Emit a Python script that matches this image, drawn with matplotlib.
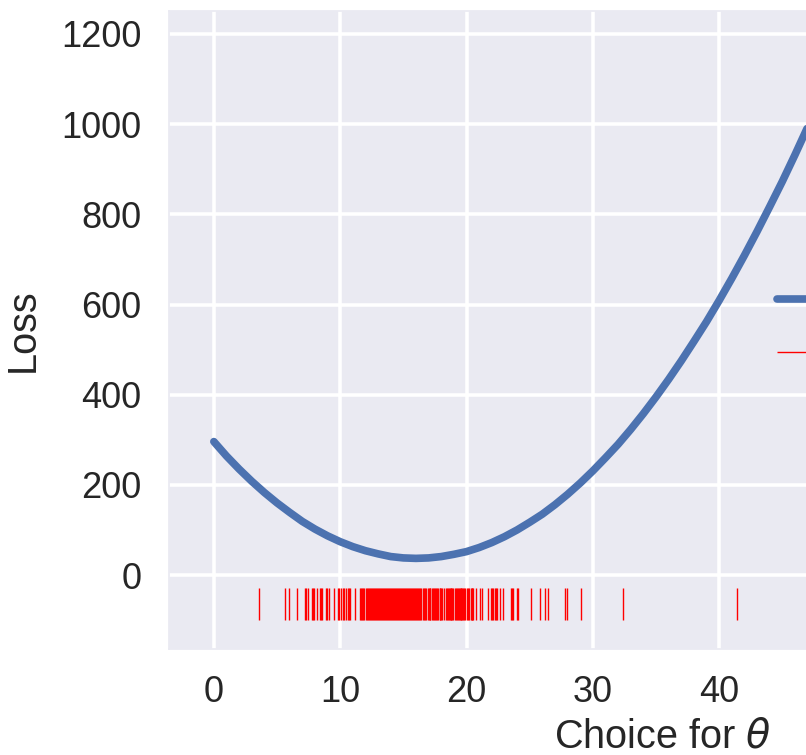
import numpy as np
import matplotlib
matplotlib.use('Agg')
import matplotlib.pyplot as plt
import seaborn as sns

sns.set_theme(style='darkgrid')
plt.rcParams['font.family'] = ['Liberation Sans', 'DejaVu Sans']
plt.rcParams['axes.edgecolor'] = '#EAEAF2'

# loss curve
theta = np.arange(0, 51)
loss = [296, 264, 235, 208, 183, 160, 139, 119, 102, 87,
        74, 63, 54, 47, 41, 38, 37, 38, 41, 46,
        52, 61, 72, 85, 100, 117, 135, 156, 179, 204,
        231, 260, 290, 323, 358, 395, 434, 475, 518, 562,
        609, 658, 709, 762, 817, 873, 932, 993, 1056, 1121, 1188]

# observed values (rug)
obs = [3.58, 5.67, 5.95, 6.62, 7.19, 7.31, 7.43, 7.75, 7.83, 7.91, 8.14, 8.38, 8.46,
       8.54, 8.85, 8.97, 9.09, 9.49, 9.80, 9.92, 10.04, 10.20, 10.32, 10.43, 10.59,
       10.67, 10.75, 11.15, 11.54, 11.62, 11.70, 11.78, 11.86,
       12.02, 12.09, 12.17, 12.25, 12.33, 12.41, 12.49, 12.57, 12.65, 12.73, 12.81,
       12.89, 12.96, 13.04, 13.12, 13.20, 13.28, 13.36, 13.44, 13.52, 13.60, 13.68,
       13.75, 13.83, 13.91, 13.99, 14.07, 14.15, 14.23, 14.31, 14.39, 14.47, 14.55,
       14.62, 14.70, 14.78, 14.86, 14.94, 15.02, 15.10, 15.18, 15.26, 15.34, 15.42,
       15.49, 15.57, 15.65, 15.73, 15.81, 15.89, 15.97, 16.05, 16.13, 16.21, 16.28,
       16.36, 16.52, 16.60, 16.68, 16.76, 16.92, 17.00, 17.08, 17.15, 17.23, 17.31,
       17.39, 17.47, 17.55, 17.63, 17.71, 17.87, 17.94, 18.02, 18.10, 18.18, 18.34,
       18.42, 18.50, 18.58, 18.66, 18.74, 18.81, 18.89, 18.97, 19.05, 19.13, 19.21,
       19.29, 19.37, 19.45, 19.53, 19.60, 19.68, 19.76, 19.84, 19.92, 20.00, 20.08,
       20.20, 20.32, 20.40, 20.47, 20.55, 20.79, 21.03, 21.26, 21.74, 21.90, 21.98,
       22.06, 22.29, 22.37, 22.45, 22.69, 22.92, 23.56, 23.64, 23.72, 24.03,
       24.11, 25.14, 25.85, 26.25, 26.48, 27.83, 27.98, 29.09, 32.41, 41.42, 71.03]

fig = plt.figure(figsize=(8.06, 7.55), dpi=100)
ax = fig.add_axes([169/806, 106/755, 987/806, 638/755])

ax.plot(theta, loss, color='#4C72B0', lw=5.5, label='Loss')
ax.vlines(obs, -100, -29, color='red', lw=1.0, label='Observed')

ax.set_xlim(-3.55, 74.58)
ax.set_ylim(-164, 1251)
ax.set_xticks([0, 10, 20, 30, 40, 50, 60, 70])
ax.set_yticks([0, 200, 400, 600, 800, 1000, 1200])

ax.grid(color='white', lw=2.6)
ax.tick_params(axis='both', labelsize=26, colors='#262626', length=0)
ax.tick_params(axis='x', pad=19)
ax.tick_params(axis='y', pad=20)
ax.set_xlabel(r'Choice for $\theta$', fontsize=28.5, color='#262626', labelpad=5)
ax.set_ylabel('Loss', fontsize=28.5, color='#262626', labelpad=14)

leg = ax.legend(loc='upper left', bbox_to_anchor=(744/806, 1 - 252/755),
                bbox_transform=fig.transFigure, frameon=False, fontsize=26)

plt.savefig('out.png', dpi=100)
